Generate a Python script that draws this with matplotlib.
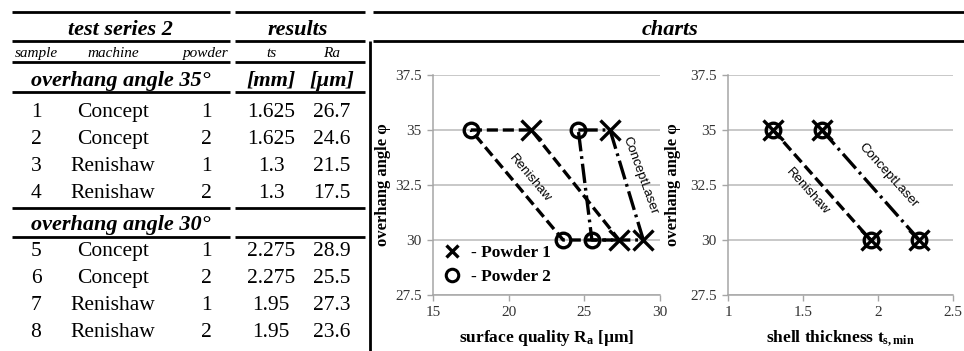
import matplotlib
matplotlib.use('Agg')
import matplotlib.pyplot as plt
from matplotlib.lines import Line2D

# ---------------- data ----------------
samples = [1, 2, 3, 4, 5, 6, 7, 8]
machines = ['Concept', 'Concept', 'Renishaw', 'Renishaw',
            'Concept', 'Concept', 'Renishaw', 'Renishaw']
powders = [1, 2, 1, 2, 1, 2, 1, 2]
ts_mm = [1.625, 1.625, 1.3, 1.3, 2.275, 2.275, 1.95, 1.95]
ra_um = [26.7, 24.6, 21.5, 17.5, 28.9, 25.5, 27.3, 23.6]
angles = [35, 35, 35, 35, 30, 30, 30, 30]

angle_ticks = [27.5, 30, 32.5, 35, 37.5]
ra_ticks = [15, 20, 25, 30]
ts_ticks = [1, 1.5, 2, 2.5]

machine_labels = {'Renishaw': 'Renishaw', 'Concept': 'ConceptLaser'}

# ---------------- style ----------------
plt.rcParams['lines.scale_dashes'] = False
plt.rcParams['mathtext.fontset'] = 'custom'
plt.rcParams['mathtext.rm'] = 'Liberation Serif:bold'
plt.rcParams['mathtext.it'] = 'Liberation Serif:bold:italic'
plt.rcParams['mathtext.bf'] = 'Liberation Serif:bold'
SERIF = 'Liberation Serif'
SANS = 'Liberation Sans'
STYLE = {'Renishaw': (0, (8, 3.5)), 'Concept': (0, (14, 3.5, 2, 3.5))}

fig = plt.figure(figsize=(9.64, 3.51), dpi=100)
bg = fig.add_axes([0, 0, 1, 1])
bg.set_xlim(0, 964)
bg.set_ylim(351, 0)
bg.axis('off')


def hrule(y, x0, x1):
    bg.plot([x0, x1], [y, y], color='black', lw=2, solid_capstyle='butt')


for y in [12, 41, 62, 92, 208, 237]:
    hrule(y, 12, 230)
    hrule(y, 235, 365)
for y in [12, 41]:
    hrule(y, 373, 964)
bg.plot([370, 370], [41, 351], color='black', lw=2, solid_capstyle='butt')

BI = dict(family=SERIF, fontweight='bold', fontstyle='italic', fontsize=16,
          ha='center', va='baseline')
IT = dict(family=SERIF, fontstyle='italic', fontsize=11, ha='center', va='baseline')
RG = dict(family=SERIF, fontsize=15.5, ha='center', va='baseline')

bg.text(120, 35, 'test series 2', **BI)
bg.text(298, 35, 'results', **BI)
bg.text(670, 35, 'charts', **BI)

cols_x = [36, 113, 206, 271, 332]
for x, t in zip(cols_x, ['sample', 'machine', 'powder', 'ts', 'Ra']):
    bg.text(x, 57, t, **IT)

bg.text(121, 86, 'overhang angle 35°', **BI)
bg.text(271, 86, '[mm]', **BI)
bg.text(332, 86, '[µm]', **BI)
bg.text(121, 230, 'overhang angle 30°', **BI)

row_base = [117, 144, 171, 198, 256, 283, 310, 337]
for i in range(len(samples)):
    vals = [str(samples[i]), machines[i], str(powders[i]), str(ts_mm[i]), str(ra_um[i])]
    for x, t in zip(cols_x, vals):
        bg.text(x, row_base[i], t, **RG)

# ---------------- charts ----------------
ax1 = fig.add_axes([433 / 964, 56 / 351, 227 / 964, 220 / 351])
ax2 = fig.add_axes([728 / 964, 56 / 351, 225 / 964, 220 / 351])


def style_ax(ax, xticks, xlab):
    ax.set_ylim(27.5, 37.5)
    ax.set_xlim(xticks[0], xticks[-1])
    ax.set_yticks(angle_ticks, labels=[f'{v:g}' for v in angle_ticks])
    ax.set_xticks(xticks, labels=[f'{v:g}' for v in xticks])
    for s in ['top', 'right']:
        ax.spines[s].set_visible(False)
    for s in ['left', 'bottom']:
        ax.spines[s].set_color('#a6a6a6')
        ax.spines[s].set_linewidth(1.1)
    ax.grid(axis='y', color='#bfbfbf', lw=1.2)
    ax.set_axisbelow(True)
    ax.tick_params(direction='out', length=4, width=1, color='#a6a6a6',
                   labelcolor='#333333', labelsize=11, pad=4)
    for lab in ax.get_xticklabels() + ax.get_yticklabels():
        lab.set_family(SERIF)
    ax.set_ylabel('overhang angle φ', family=SERIF, fontweight='bold', fontsize=12)
    ax.set_xlabel(xlab, family=SERIF, fontweight='bold', fontsize=12.5)
    ax.patch.set_alpha(0)


style_ax(ax1, ra_ticks, 'surface quality R$_\\mathrm{a}$ [µm]')
style_ax(ax2, ts_ticks, 'shell thickness t$_\\mathrm{s,min}$')
ax1.yaxis.set_label_coords(-0.185, 0.5)
ax2.yaxis.set_label_coords(-0.209, 0.5)
ax1.xaxis.set_label_coords(0.5, -0.15)
ax2.xaxis.set_label_coords(0.5, -0.15)


def idx(m, a, p):
    for i in range(len(samples)):
        if machines[i] == m and angles[i] == a and powders[i] == p:
            return i


for m in ['Renishaw', 'Concept']:
    order = [idx(m, 35, 2), idx(m, 35, 1), idx(m, 30, 1), idx(m, 30, 2), idx(m, 35, 2)]
    ax1.plot([ra_um[i] for i in order], [angles[i] for i in order],
             color='black', lw=2.4, linestyle=STYLE[m], zorder=3)
    order2 = [idx(m, 35, 1), idx(m, 30, 1)]
    ax2.plot([ts_mm[i] for i in order2], [angles[i] for i in order2],
             color='black', lw=2.4, linestyle=STYLE[m], zorder=3)

for ax, xs in [(ax1, ra_um), (ax2, ts_mm)]:
    p1 = [i for i in range(len(samples)) if powders[i] == 1]
    p2 = [i for i in range(len(samples)) if powders[i] == 2]
    ax.plot([xs[i] for i in p2], [angles[i] for i in p2], ls='none', marker='o',
            ms=10.5, mfc='none', mec='black', mew=2.4, zorder=4, clip_on=False)
    ax.plot([xs[i] for i in p1], [angles[i] for i in p1], ls='none', marker='x',
            ms=15, mec='black', mew=2.4, zorder=5, clip_on=False)

LBL = dict(family=SANS, fontsize=9.5, ha='center', va='center')
ax1.text(21.4, 32.8, machine_labels['Renishaw'], rotation=-50, **LBL)
ax1.text(28.7, 32.95, machine_labels['Concept'], rotation=-70, **LBL)
ax2.text(1.53, 32.2, machine_labels['Renishaw'], rotation=-48, **LBL)
ax2.text(2.07, 32.95, machine_labels['Concept'], rotation=-48, **LBL)

handles = [Line2D([], [], marker='x', ls='none', color='black', ms=9, mew=2.4,
                  label='- Powder 1'),
           Line2D([], [], marker='o', ls='none', mfc='none', mec='black', ms=9,
                  mew=2.2, label='- Powder 2')]
ax1.legend(handles=handles, loc='lower left', bbox_to_anchor=(0.0, 0.0),
           frameon=False, prop=dict(family=SERIF, weight='bold', size=12.5),
           handlelength=1.0, handletextpad=0.6, labelspacing=0.45,
           borderaxespad=0.2)

fig.savefig('out.png', dpi=100)
